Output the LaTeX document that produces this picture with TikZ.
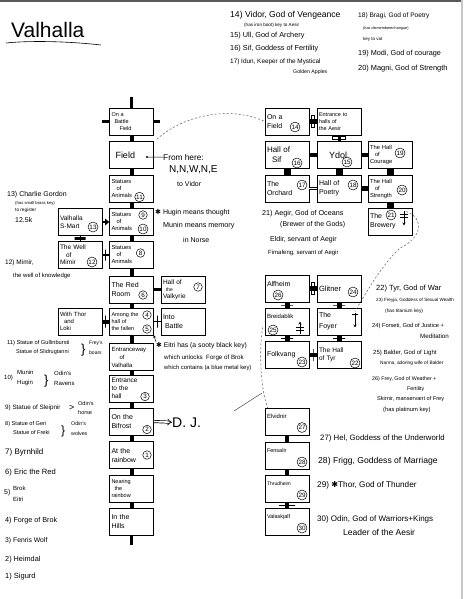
\documentclass[tikz,border=0pt]{standalone}
\usepackage{fontspec}
\setmainfont{Liberation Sans}
\newfontfamily\symf{DejaVu Sans}
\usetikzlibrary{arrows.meta,calc}
\newcommand\fs[1]{\fontsize{#1}{#1}\selectfont}
\newcommand\fsb[2]{\fontsize{#1}{#2}\selectfont}
\newcommand\starsym{{\symf ✱}}
\newcommand\rnum[5]{\node[num] (#1) at ($(#2)+(#3,#4)$) {#5};}
\begin{document}
\begin{tikzpicture}[x=1pt,y=-1pt,
  room/.style={draw,line width=0.6pt,minimum width=44pt,minimum height=27pt,text width=40pt,align=left,inner sep=2pt},
  num/.style={draw,circle,inner sep=0.6pt,minimum size=8.5pt,line width=0.5pt,font=\fs{6.3}},
  conn/.style={line width=4pt},
  sq/.style={line width=7pt},
  barh/.style={draw,line width=0.8pt,minimum width=12pt,minimum height=0pt,inner sep=0pt},
  barv/.style={draw,line width=0.8pt,minimum width=0pt,minimum height=12pt,inner sep=0pt},
  dbv/.style={draw,line width=0.8pt,minimum width=3pt,minimum height=12pt,inner sep=0pt},
  dbh/.style={draw,line width=0.8pt,minimum width=13pt,minimum height=3pt,inner sep=0pt},
  t/.style={anchor=base west,inner sep=0pt},
  dashes/.style={line width=0.5pt,black!65,dash pattern=on 2pt off 2pt},
  stair/.style={line width=0.7pt}
]
\useasboundingbox (0,0) rectangle (463,599);
\fill[white] (0,0) rectangle (463,599);
\fill[black!65] (0,0) rectangle (463,1.6);
\fill[black!22] (461,0) rectangle (463,599);

% title
\node[t,font=\fs{21}] (title) at (11,38) {Valhalla};
\draw[line width=0.6pt] (6,43) .. controls (35,40) and (75,42) .. (101,45);

% ---------- middle column ----------
\node[room,font=\fsb{5.5}{6.8}] (obf) at (131.5,121.5) {On a\\\hspace*{3pt}Battle\\\hspace*{8pt}Field};
\node[room,font=\fs{9}] (fld) at (131.5,155) {\hspace*{4pt}Field};
\node[room,font=\fsb{5.8}{7}] (s11) at (131.5,188.5) {Statues\\\hspace*{5pt}of\\Animals};
\node[room,font=\fsb{5.8}{7}] (s9) at (131.5,222) {Statues\\\hspace*{5pt}of\\Animals};
\node[room,font=\fsb{5.8}{7}] (s8) at (131.5,255) {Statues\\\hspace*{5pt}of\\Animals};
\node[room,font=\fsb{7}{9}] (red) at (131.5,289.5) {The Red\\Room};
\node[room,font=\fsb{5.5}{7}] (among) at (131.5,321.5) {Among the\\hall of\\the fallen};
\node[room,font=\fsb{6}{8}] (entw) at (131.5,357) {Entranceway\\\hspace*{8pt}of\\Valhalla};
\node[room,font=\fsb{6.5}{8}] (enth) at (131.5,388.5) {Entrance\\to the\\hall};
\node[room,font=\fsb{7}{9}] (bif) at (131.5,421.5) {On the\\Bifrost};
\node[room,font=\fsb{7}{9}] (rain) at (131.5,455) {At the\\rainbow};
\node[room,font=\fsb{5.5}{7}] (near) at (131.5,488.5) {Nearing\\\hspace*{3pt}the\\rainbow};
\node[room,font=\fsb{7}{9}] (hills) at (131.5,521.5) {In the\\Hills};
\node[room,font=\fsb{6.5}{8}] (smart) at (80,222) {Valhalla\\S-Mart};
\node[room,font=\fsb{6.5}{7.5}] (well) at (80,255) {The Well\\\hspace*{6pt}of\\Mimir};
\node[room,font=\fsb{6}{7}] (thor) at (80,321.5) {With Thor\\\hspace*{4pt}and\\Loki};
\node[room,font=\fsb{6.5}{7}] (valk) at (183,289.5) {Hall of\\\hspace*{3pt}{\fs{5}the}\\Valkyrie};
\node[room,font=\fsb{7}{9}] (battle) at (183,321.5) {Into\\\hspace*{2pt}Battle};

\rnum{n11}{s11}{8}{8.5}{11}
\rnum{n9}{s9}{11.5}{-7}{9}
\rnum{n10}{s9}{11.5}{7}{10}
\rnum{n8}{s8}{9}{-2}{8}
\rnum{n6}{red}{11.5}{5.5}{6}
\rnum{n7}{valk}{15}{-2.5}{7}
\rnum{n4}{among}{15.5}{-6.5}{4}
\rnum{n5}{among}{15.5}{7.5}{5}
\rnum{n3}{enth}{13.5}{8}{3}
\rnum{n2}{bif}{15.5}{8}{2}
\rnum{n1}{rain}{15.5}{0}{1}
\rnum{n13}{smart}{13}{5}{13}
\rnum{n12}{well}{12}{7}{12}

% ---------- right cluster ----------
\node[room,font=\fsb{7}{9}] (of14) at (287,121.5) {On a\\Field};
\node[room,font=\fsb{5.5}{7}] (eah) at (339,121.5) {Entrance to\\halls of\\the Aesir};
\node[room,font=\fsb{8}{10}] (sif) at (287,155) {Hall of\\\hspace*{5pt}Sif};
\node[room,font=\fs{9}] (ydol) at (339,155) {\hspace*{10pt}Ydol};
\node[room,font=\fsb{5.8}{7}] (cour) at (390,155) {The Hall\\\hspace*{5pt}of\\Courage};
\node[room,font=\fsb{7}{9}] (orch) at (287,188.5) {The\\Orchard};
\node[room,font=\fsb{7}{9}] (poet) at (339,188.5) {Hall of\\Poetry};
\node[room,font=\fsb{5.8}{7}] (str) at (390,188.5) {The Hall\\\hspace*{5pt}of\\Strength};
\node[room,font=\fsb{7}{9}] (brew) at (390,221.5) {The\\Brewery};
\rnum{n14}{of14}{8}{5.5}{14}
\rnum{n16}{sif}{10}{8}{16}
\rnum{n15}{ydol}{8}{7}{15}
\rnum{n19}{cour}{10}{-2}{19}
\rnum{n17}{orch}{15}{-3.5}{17}
\rnum{n18}{poet}{14}{-3.5}{18}
\rnum{n20}{str}{12}{1.5}{20}
\rnum{n21}{brew}{1}{-6.5}{21}

\node[room,font=\fsb{7}{10}] (alf) at (287,288.5) {Alfheim\\\mbox{}};
\node[room,font=\fs{7.5}] (gli) at (339,288.5) {Glitner};
\node[room,font=\fsb{6}{10}] (brei) at (287,321.5) {Breidablik\\\mbox{}};
\node[room,font=\fsb{7}{11}] (foy) at (339,321.5) {The\\Foyer};
\node[room,font=\fs{7}] (folk) at (287,355) {Folkvang};
\node[room,font=\fsb{6.5}{8.5}] (tyr) at (339,355) {The Hall\\of Tyr};
\rnum{n26}{alf}{-9}{6.5}{26}
\rnum{n24}{gli}{14}{3.5}{24}
\rnum{n25}{brei}{-14}{8.5}{25}
\rnum{n23}{folk}{15}{7}{23}
\rnum{n22}{tyr}{16}{8}{22}

\node[room,font=\fsb{6}{10}] (elv) at (287,421.5) {Elvidnir\\\mbox{}};
\node[room,font=\fsb{5.5}{10}] (fen) at (287,455.5) {Fensalir\\\mbox{}};
\node[room,font=\fsb{5}{10}] (thr) at (287,489) {Thrudheim\\\mbox{}};
\node[room,font=\fsb{5.5}{10}] (val) at (287,521.5) {Valaskjalf\\\mbox{}};
\rnum{n27}{elv}{15}{6}{27}
\rnum{n28}{fen}{15}{6.5}{28}
\rnum{n29}{thr}{15}{6}{29}
\rnum{n30}{val}{15}{6.5}{30}

% stairs symbols
\draw[stair,-{Stealth[length=3pt,width=3pt]}] ($(brew)+(14,-11)$) -- ($(brew)+(14,4)$);
\draw[stair] ($(brew)+(10,-7)$) -- ++(8,0) ($(brew)+(10,-4)$) -- ++(8,0);
\draw[stair,-{Stealth[length=3pt,width=3pt]}] ($(brei)+(13,12)$) -- ($(brei)+(13,0)$);
\draw[stair] ($(brei)+(9,6)$) -- ++(8,0) ($(brei)+(9,9)$) -- ++(8,0);
\draw[stair,-{Stealth[length=3pt,width=3pt]}] ($(foy)+(16,-9)$) -- ($(foy)+(16,6)$);
\draw[stair] ($(foy)+(13,-7)$) -- ++(6,0);

% ---------- connectors ----------
\foreach \a/\b in {obf/fld,fld/s11,s11/s9,s9/s8,s8/red,red/among,among/entw,entw/enth,enth/bif,bif/rain,rain/near,near/hills}
  \draw[conn] (\a.south) -- (\b.north);
\coordinate (topend) at (131.5,97);
\coordinate (obfL) at (102,121.5);
\coordinate (obfR) at (160,121.5);
\coordinate (hillsend) at (131.5,545);
\draw[line width=3pt] (obf.north) -- (topend);
\draw[line width=3.5pt] (obf.west) -- (obfL);
\draw[line width=3.5pt] (obf.east) -- (obfR);
\draw[line width=3pt] (hills.south) -- (hillsend);

\draw[line width=2.2pt,-{Triangle[length=4pt,width=6.5pt]}] (smart.east) -- (s9.west);
\draw[line width=0.8pt] (smart.south) -- node[midway,barh,line width=2.2pt,minimum width=11pt]{} (well.north);
\draw[line width=1.4pt] (well.east) -- node[midway,barv,line width=1.4pt,minimum height=11pt]{} (s8.west);
\draw[line width=3.5pt] (red.east) -- (valk.west);
\draw[line width=4pt] (among.west) -- node[midway,barv]{} (thor.east);
\draw[line width=0.9pt] (among.east) -- node[midway,barv,line width=0.9pt]{} (battle.west);

\draw[line width=4pt] (of14.east) -- node[midway,dbv]{} (eah.west);
\draw[line width=3pt] (eah.south) -- node[midway,dbh]{} (ydol.north);
\draw[line width=4.5pt] (sif.east) -- (ydol.west);
\draw[line width=4.5pt] (ydol.east) -- (cour.west);
\draw[sq] (sif.south) -- (orch.north);
\draw[sq] (ydol.south) -- (poet.north);
\draw[sq] (cour.south) -- (str.north);
\draw[line width=4.5pt] (poet.east) -- (str.west);
\draw[sq] (str.south) -- (brew.north);
\draw[line width=0.7pt,double,double distance=1.2pt] (orch.east) -- (poet.west);

\draw[line width=4.5pt] (alf.east) -- node[midway,dbv]{} (gli.west);
\draw[line width=5pt] (alf.south) -- node[midway,barh]{} (brei.north);
\draw[line width=5pt] (gli.south) -- node[midway,barh]{} (foy.north);
\draw[line width=5pt] (brei.south) -- node[midway,barh]{} (folk.north);
\draw[line width=5pt] (foy.south) -- node[midway,barh]{} (tyr.north);
\draw[line width=4.5pt] (folk.east) -- node[midway,barv]{} (tyr.west);

\draw[line width=4.5pt] (elv.south) -- (fen.north);
\draw[line width=4.5pt] (fen.south) -- (thr.north);
\draw[line width=4.5pt] (thr.south) -- node[midway,barh,minimum width=16pt]{} (val.north);

% dashed routes
\draw[dashes] ($(fld.north east)+(3,-2)$) .. controls (185,114) and (232,106) .. (of14.west);
\draw[dashes] ($(brew)+(16,-10)$) .. controls (425,218) and (422,238) .. (400,248) .. controls (385,262) and (372,282) .. ($(foy)+(16,-10)$);
\draw[dashes] ($(brei.west)+(-2,6)$) .. controls (258,355) and (262,395) .. ($(elv.north west)+(3,0)$);
\coordinate (tl1) at (234,411);
\coordinate (tl2) at (262,393);
\draw[line width=0.5pt,black!70] (tl1) -- (tl2);

% ---------- notes in the middle ----------
\node[t,font=\fs{8.3}] (from) at (163,160) {From here:};
\node[t,font=\fs{10}] (nnwne) at (169,172) {N,N,W,N,E};
\node[t,font=\fs{7}] (tovid) at (177,186) {to Vidor};
\coordinate (fdot) at (147,157);
\fill (fdot) circle (1.2);
\draw[line width=0.5pt] (fdot) -- (from.west);

\node[t,font=\fs{7}] (hug1) at (155,214) {\starsym\ Hugin means thought};
\node[t,font=\fs{7.2}] (hug2) at (163,227) {Munin means memory};
\node[t,font=\fs{7}] (hug3) at (183,242) {in Norse};

\node[t,font=\fs{6.8}] (eit1) at (156,347) {\starsym\ Eitri has (a sooty black key)};
\node[t,font=\fs{6.2}] (eit2) at (164,359) {which unlocks\ \ Forge of Brok};
\node[t,font=\fs{5.9}] (eit3) at (164,369) {which contains (a blue metal key)};
\draw[line width=0.5pt,-{Stealth[length=2.5pt,width=2.5pt]}] (eit1.north west) -- (among.south east);

\node[t,font=\fs{14}] (dj) at (172,427) {D. J.};
\draw[double,double distance=1.6pt,line width=0.7pt,-{Implies}] (bif.east) -- (dj.west);

% ---------- top right list ----------
\node[t,font=\fs{8.6}] (l14) at (230,18) {14) Vidor, God of Vengeance};
\node[t,font=\fs{4.6}] (l14b) at (244,27) {(has iron boot) key to Aesir};
\node[t,font=\fs{7.3}] (l15) at (230,38) {15) Ull, God of Archery};
\node[t,font=\fs{7.3}] (l16) at (230,51) {16) Sif, Goddess of Fertility};
\node[t,font=\fs{6.4}] (l17) at (230,64) {17) Idun, Keeper of the Mystical};
\node[t,font=\fs{5.2}] (l17b) at (293,74) {Golden Apples};
\node[t,font=\fs{6.6}] (l18) at (358,18) {18) Bragi, God of Poetry};
\node[t,font=\fs{3.8}] (l18b) at (363,30) {(has dismembered tongue)};
\node[t,font=\fs{4.5}] (l18c) at (363,41) {key to vat};
\node[t,font=\fs{7.3}] (l19) at (358,56) {19) Modi, God of courage};
\node[t,font=\fs{7.4}] (l20) at (358,71) {20) Magni, God of Strength};

% ---------- left list ----------
\node[t,font=\fs{7}] (l13) at (7,196) {13) Charlie Gordon};
\node[t,font=\fs{4.2}] (l13b) at (15,204) {(has small brass key)};
\node[t,font=\fs{4.7}] (l13c) at (15,211) {to register};
\node[t,font=\fs{7}] (l13d) at (15,222) {12.5k};
\node[t,font=\fs{6.5}] (l12) at (5,264) {12) Mimir,};
\node[t,font=\fs{6}] (l12b) at (13,277) {the well of knowledge};
\node[t,font=\fs{5.7}] (l11) at (7,344) {11) Statue of Gullinbursti};
\node[t,font=\fs{5.5}] (l11b) at (16,353) {Statue of Slidrugtanni};
\node[t,font=\fs{13}] (l11c) at (81,353) {\}};
\node[t,font=\fs{5}] (l11d) at (89,344) {Frey's};
\node[t,font=\fs{5}] (l11e) at (89,354.5) {boars};
\node[t,font=\fs{6}] (l10) at (4,379) {10)};
\node[t,font=\fs{6}] (l10a) at (17,374) {Munin};
\node[t,font=\fs{6}] (l10b) at (17,384) {Hugin};
\node[t,font=\fs{13}] (l10c) at (44,384) {\}};
\node[t,font=\fs{6}] (l10d) at (54,375) {Odin's};
\node[t,font=\fs{6}] (l10e) at (54,385) {Ravens};
\node[t,font=\fs{6.3}] (l9) at (5,409) {9) Statue of Sleipnir};
\node[t,font=\fs{9}] (l9b) at (69,410) {>};
\node[t,font=\fs{5.5}] (l9c) at (78,405) {Odin's};
\node[t,font=\fs{5.5}] (l9d) at (78,414) {horse};
\node[t,font=\fs{5.6}] (l8) at (5,425) {8) Statue of Geri};
\node[t,font=\fs{5.6}] (l8b) at (13,434) {Statue of Freki};
\node[t,font=\fs{12}] (l8c) at (61,434) {\}};
\node[t,font=\fs{5.3}] (l8d) at (71,425) {Odin's};
\node[t,font=\fs{5.3}] (l8e) at (71,435) {wolves};
\node[t,font=\fs{8}] (l7) at (5,454) {7) Byrnhild};
\node[t,font=\fs{7.6}] (l6) at (5,474) {6) Eric the Red};
\node[t,font=\fs{7}] (l5) at (4,494) {5)};
\node[t,font=\fs{6}] (l5a) at (13,490) {Brok};
\node[t,font=\fs{6}] (l5b) at (13,501) {Eitri};
\node[t,font=\fs{7.2}] (l4) at (5,522) {4) Forge of Brok};
\node[t,font=\fs{6.8}] (l3) at (5,542) {3) Fenris Wolf};
\node[t,font=\fs{7.3}] (l2) at (5,561) {2) Heimdal};
\node[t,font=\fs{7.5}] (l1) at (5,578) {1) Sigurd};

% ---------- right notes ----------
\node[t,font=\fs{7.2}] (aeg1) at (262,215) {21) Aegir, God of Oceans};
\node[t,font=\fs{7}] (aeg2) at (280,226) {(Brewer of the Gods)};
\node[t,font=\fs{7}] (eld) at (270,241) {Eldir, servant of Aegir};
\node[t,font=\fs{6}] (fim) at (268,254) {Fimafeng, servant of Aegir};

\node[t,font=\fs{7.5}] (t22) at (376,290) {22) Tyr, God of War};
\node[t,font=\fs{4.6}] (t23) at (376,301) {23) Freyja, Goddess of Sexual Wealth};
\node[t,font=\fs{4.8}] (t23b) at (385,312) {(has titanium key)};
\node[t,font=\fs{5.7}] (t24) at (372,327) {24) Forseti, God of Justice +};
\node[t,font=\fs{6.2}] (t24b) at (420,338) {Meditation};
\node[t,font=\fs{6}] (t25) at (373,354) {25) Balder, God of Light};
\node[t,font=\fs{4.8}] (t25b) at (380,364) {Nanna, adoring wife of Balder};
\node[t,font=\fs{5.3}] (t26) at (372,380) {26) Frey, God of Weather +};
\node[t,font=\fs{5.3}] (t26b) at (407,390) {Fertility};
\node[t,font=\fs{5.6}] (t26c) at (377,400) {Skirnir, manservant of Frey};
\node[t,font=\fs{5.8}] (t26d) at (383,411) {(has platinum key)};

\node[t,font=\fs{7.8}] (t27) at (320,440) {27) Hel, Goddess of the Underworld};
\node[t,font=\fs{8.6}] (t28) at (318,463) {28) Frigg, Goddess of Marriage};
\node[t,font=\fs{8.2}] (t29) at (317,487) {29) \starsym Thor, God of Thunder};
\node[t,font=\fs{8}] (t30) at (317,521) {30) Odin, God of Warriors+Kings};
\node[t,font=\fs{8.5}] (t30b) at (343,535) {Leader of the Aesir};
\end{tikzpicture}
\end{document}
